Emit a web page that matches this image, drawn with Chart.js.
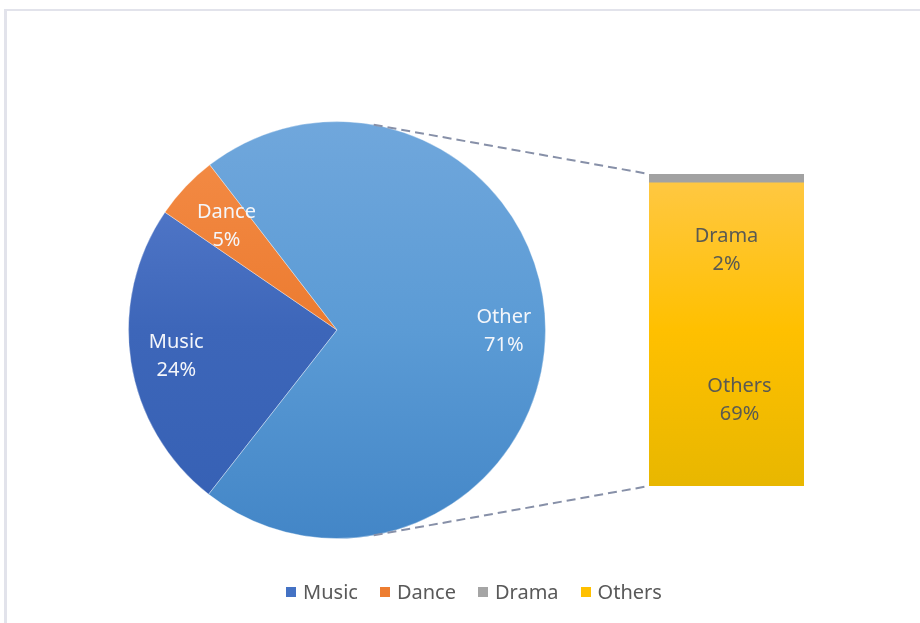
<!DOCTYPE html>
<html>
<head>
<meta charset="utf-8">
<script src="https://cdn.jsdelivr.net/npm/chart.js@4/dist/chart.umd.min.js"></script>
<style>
    html, body { margin: 0; padding: 0; background: #fff; }
    body { width: 920px; height: 623px; position: relative; overflow: hidden; font-family: 'Noto Sans', sans-serif; }
    .frame { position: absolute; left: 4px; top: 9px; width: 940px; height: 640px; border-left: 3px solid #e2e3eb; border-top: 2px solid #e2e3eb; }
    #pieChart { position: absolute; left: 128px; top: 121px; }
    #barChart { position: absolute; left: 649px; top: 174px; }
    #overlay { position: absolute; left: 0; top: 0; pointer-events: none; }
    .legend { position: absolute; left: 14px; top: 578px; width: 920px; display: flex; justify-content: center; gap: 22px; color: #595959; font-size: 20px; }
    .legend span.item { display: flex; align-items: center; }
    .legend i { display: inline-block; width: 10px; height: 10px; margin-right: 7px; }
</style>
</head>
<body>
<div class="frame"></div>
<canvas id="pieChart" width="418" height="418"></canvas>
<canvas id="barChart" width="155" height="312"></canvas>
<canvas id="overlay" width="920" height="623"></canvas>
<div class="legend" id="legend"></div>

<script>
// pie slices (clockwise, starting with Music)
const pieLabels = ['Music', 'Dance', 'Other'];
const pieValues = [24, 5, 71];

// breakdown of "Other", stacked bottom to top
const barLabels = ['Others', 'Drama'];
const barValues = [69, 2];

const legendLabels = ['Music', 'Dance', 'Drama', 'Others'];

const solidColors = {
    Music: '#4472c4',
    Dance: '#ed7d31',
    Drama: '#a5a5a5',
    Others: '#ffc000'
};

// light -> dark vertical fills
const gradientStops = {
    Music: ['#5b80d0', '#3d66b9', '#3560b4'],
    Dance: ['#f48d48', '#ec7b30', '#e2702a'],
    Other: ['#70a7dc', '#5b9bd5', '#4386c7'],
    Others: ['#ffc845', '#ffc000', '#e8b700'],
    Drama: ['#a2a2a2', '#a2a2a2', '#a2a2a2']
};

// where each data label sits (fraction of radius for the pie, pixel nudges for the bar)
const pieLabelRadius = { Music: 0.78, Dance: 0.73, Other: 0.8 };
const barLabelOffset = { Drama: { dx: 0, dy: 72 }, Others: { dx: 13, dy: 66 } };

const labelFont = '20px "Noto Sans", sans-serif';

function verticalGradient(chart, name) {
    const area = chart.chartArea;
    const stops = gradientStops[name];
    if (!area) return stops[1];
    const g = chart.ctx.createLinearGradient(0, area.top, 0, area.bottom);
    g.addColorStop(0, stops[0]);
    g.addColorStop(0.5, stops[1]);
    g.addColorStop(1, stops[2]);
    return g;
}

function drawTwoLines(ctx, x, y, a, b, color) {
    ctx.save();
    ctx.font = labelFont;
    ctx.fillStyle = color;
    ctx.textAlign = 'center';
    ctx.textBaseline = 'middle';
    ctx.fillText(a, x, y - 14);
    ctx.fillText(b, x, y + 14);
    ctx.restore();
}

const pieLabelPlugin = {
    id: 'pieLabels',
    afterDatasetsDraw(chart) {
        const meta = chart.getDatasetMeta(0);
        meta.data.forEach((arc, i) => {
            const p = arc.getProps(['x', 'y', 'startAngle', 'endAngle', 'outerRadius'], true);
            const mid = (p.startAngle + p.endAngle) / 2;
            const r = p.outerRadius * pieLabelRadius[pieLabels[i]];
            drawTwoLines(chart.ctx, p.x + Math.cos(mid) * r, p.y + Math.sin(mid) * r + 1,
                pieLabels[i], pieValues[i] + '%', '#f4f6fa');
        });
    }
};

const barLabelPlugin = {
    id: 'barLabels',
    afterDatasetsDraw(chart) {
        chart.data.datasets.forEach((ds, i) => {
            const bar = chart.getDatasetMeta(i).data[0];
            const p = bar.getProps(['x', 'y', 'base'], true);
            const off = barLabelOffset[ds.label];
            const midY = (p.y + p.base) / 2;
            drawTwoLines(chart.ctx, p.x + off.dx, midY + off.dy, ds.label, barValues[i] + '%', '#5a5a52');
        });
    }
};

const pieChart = new Chart(document.getElementById('pieChart'), {
    type: 'pie',
    data: {
        labels: pieLabels,
        datasets: [{
            data: pieValues,
            backgroundColor: ctx => verticalGradient(ctx.chart, pieLabels[ctx.dataIndex]),
            borderColor: 'rgba(255,255,255,0.35)',
            borderWidth: 1
        }]
    },
    options: {
        responsive: false,
        animation: false,
        rotation: 218,
        layout: { padding: 0 },
        plugins: { legend: { display: false }, tooltip: { enabled: false } }
    },
    plugins: [pieLabelPlugin]
});

const barChart = new Chart(document.getElementById('barChart'), {
    type: 'bar',
    data: {
        labels: ['Other'],
        datasets: barLabels.map((name, i) => ({
            label: name,
            data: [barValues[i]],
            backgroundColor: ctx => verticalGradient(ctx.chart, name),
            borderWidth: 0,
            barPercentage: 1,
            categoryPercentage: 1
        }))
    },
    options: {
        responsive: false,
        animation: false,
        layout: { padding: 0 },
        plugins: { legend: { display: false }, tooltip: { enabled: false } },
        scales: {
            x: { stacked: true, display: false },
            y: { stacked: true, display: false, min: 0, max: 71 }
        }
    },
    plugins: [barLabelPlugin]
});

// dashed connectors from the pie's tangent points to the bar corners
function drawConnectors() {
    const ctx = document.getElementById('overlay').getContext('2d');
    const pieEl = document.getElementById('pieChart');
    const barEl = document.getElementById('barChart');
    const arc = pieChart.getDatasetMeta(0).data[0].getProps(['x', 'y', 'outerRadius'], true);
    const cx = pieEl.offsetLeft + arc.x;
    const cy = pieEl.offsetTop + arc.y;
    const r = arc.outerRadius;

    const top = barChart.getDatasetMeta(1).data[0].getProps(['x', 'y', 'width'], true);
    const bottom = barChart.getDatasetMeta(0).data[0].getProps(['x', 'base', 'width'], true);
    const corners = [
        { x: barEl.offsetLeft + top.x - top.width / 2, y: barEl.offsetTop + top.y, side: -1 },
        { x: barEl.offsetLeft + bottom.x - bottom.width / 2, y: barEl.offsetTop + bottom.base, side: 1 }
    ];

    ctx.save();
    ctx.strokeStyle = '#8790a8';
    ctx.lineWidth = 2;
    ctx.setLineDash([9, 5]);
    corners.forEach(c => {
        const dx = c.x - cx, dy = c.y - cy;
        const d = Math.hypot(dx, dy);
        const a = Math.atan2(dy, dx) + c.side * Math.acos(r / d);
        ctx.beginPath();
        ctx.moveTo(cx + Math.cos(a) * r, cy + Math.sin(a) * r);
        ctx.lineTo(c.x, c.y);
        ctx.stroke();
    });
    ctx.restore();
}
drawConnectors();

// legend shared by both charts
const legend = document.getElementById('legend');
legendLabels.forEach(name => {
    const item = document.createElement('span');
    item.className = 'item';
    item.innerHTML = '<i style="background:' + solidColors[name] + '"></i>' + name;
    legend.appendChild(item);
});
</script>
</body>
</html>
